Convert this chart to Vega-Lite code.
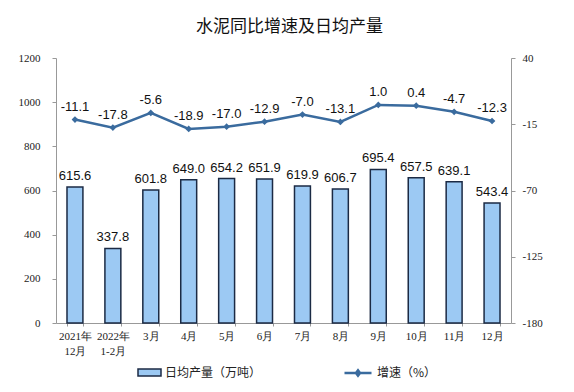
{
  "$schema": "https://vega.github.io/schema/vega-lite/v6.json",
  "width": 455,
  "height": 265,
  "autosize": {"type": "none"},
  "padding": {"left": 56, "top": 58, "right": 63, "bottom": 69},
  "background": "white",
  "title": {
    "text": "水泥同比增速及日均产量",
    "font": "Noto Sans CJK SC",
    "fontSize": 17,
    "fontWeight": "normal",
    "color": "#111",
    "anchor": "middle",
    "offset": 16,
    "dx": 6
  },
  "config": {
    "view": {"stroke": null},
    "axis": {"grid": false, "domainColor": "#999", "tickColor": "#999", "labelColor": "#222", "labelFont": "Liberation Serif", "labelFontSize": 11, "title": null},
    "legend": {"labelFont": "Noto Sans CJK SC", "labelFontSize": 12, "labelColor": "#222", "title": null}
  },
  "data": {
    "values": [
      {"m": "2021年|12月", "prod": 615.6, "g": -11.1},
      {"m": "2022年|1-2月", "prod": 337.8, "g": -17.8},
      {"m": "3月", "prod": 601.8, "g": -5.6},
      {"m": "4月", "prod": 649.0, "g": -18.9},
      {"m": "5月", "prod": 654.2, "g": -17.0},
      {"m": "6月", "prod": 651.9, "g": -12.9},
      {"m": "7月", "prod": 619.9, "g": -7.0},
      {"m": "8月", "prod": 606.7, "g": -13.1},
      {"m": "9月", "prod": 695.4, "g": 1.0},
      {"m": "10月", "prod": 657.5, "g": 0.4},
      {"m": "11月", "prod": 639.1, "g": -4.7},
      {"m": "12月", "prod": 543.4, "g": -12.3}
    ]
  },
  "encoding": {
    "x": {
      "field": "m",
      "type": "nominal",
      "sort": null,
      "scale": {"paddingInner": 0.58, "paddingOuter": 0.29},
      "axis": {"labelAngle": 0, "labelExpr": "split(datum.label, '|')", "labelLineHeight": 15, "labelPadding": 4, "tickSize": 3, "tickBand": "extent", "labelBaseline": "top"}
    }
  },
  "layer": [
    {
      "encoding": {
        "y": {"field": "prod", "type": "quantitative", "scale": {"domain": [0, 1200], "nice": false},
          "axis": {"values": [0, 200, 400, 600, 800, 1000, 1200], "format": "d", "tickSize": 4, "labelPadding": 12}}
      },
      "layer": [
        {
          "mark": {"type": "bar", "stroke": "#1b2a44", "strokeWidth": 1.5},
          "encoding": {
            "fill": {"datum": "日均产量（万吨）", "type": "nominal", "scale": {"range": ["#9cc9f3"]},
              "legend": {"orient": "none", "legendX": 81, "legendY": 302, "symbolType": "M-1,-0.3H1V0.3H-1Z", "symbolSize": 529, "symbolStrokeColor": "#1b2a44", "symbolStrokeWidth": 1.5, "labelOffset": 3}}
          }
        },
        {
          "mark": {"type": "text", "font": "Liberation Sans", "fontSize": 13, "color": "#111", "baseline": "alphabetic", "dy": -7, "text": {"expr": "format(datum.prod, '.1f')"}}
        }
      ]
    },
    {
      "encoding": {
        "y": {"field": "g", "type": "quantitative", "scale": {"domain": [-180, 40], "nice": false},
          "axis": {"orient": "right", "values": [40, -15, -70, -125, -180], "labelExpr": "replace(datum.label, '−', '-')", "tickSize": 4, "labelPadding": 7}}
      },
      "layer": [
        {
          "mark": {"type": "line", "strokeWidth": 2.5},
          "encoding": {
            "stroke": {"datum": "增速（%）", "type": "nominal", "scale": {"range": ["#3a6b9e"]},
              "legend": {"orient": "none", "legendX": 287, "legendY": 300, "symbolType": "M-1,0H1M-0.15,0L0,-0.2L0.15,0L0,0.2Z", "symbolSize": 729, "symbolStrokeWidth": 2.5, "labelOffset": 4}}
          }
        },
        {
          "mark": {"type": "point", "shape": "diamond", "filled": true, "color": "#3a6b9e", "size": 45, "opacity": 1}
        },
        {
          "mark": {"type": "text", "font": "Liberation Sans", "fontSize": 13, "color": "#111", "baseline": "alphabetic", "dy": -9, "text": {"expr": "replace(format(datum.g, '.1f'), '−', '-')"}}
        }
      ]
    }
  ],
  "resolve": {"scale": {"y": "independent", "fill": "independent", "stroke": "independent"}}
}
